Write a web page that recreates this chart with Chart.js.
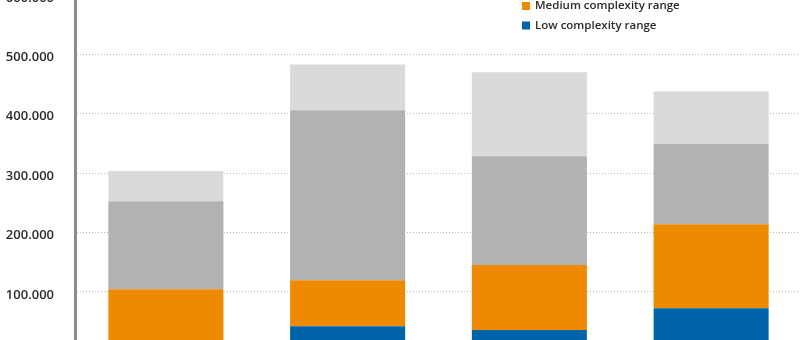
<!DOCTYPE html>
<html lang="en">
  <head>
    <meta charset="UTF-8" />
    <title>Complexity ranges</title>
    <style>
      html,
      body {
        margin: 0;
        padding: 0;
        width: 800px;
        height: 340px;
        overflow: hidden;
        background: #fff;
      }
      .plot {
        position: absolute;
        left: 0;
        top: -40px;
        width: 802px;
        height: 420px;
      }
    </style>
  </head>
  <body>
    <div class="plot">
      <canvas id="mychart"></canvas>
    </div>

    <script src="https://cdn.jsdelivr.net/npm/chart.js@4.4.1/dist/chart.umd.min.js"></script>
    <script>
      // categories and stacked series (bottom to top)
      const categories = ["A", "B", "C", "D"];
      const lowRange = [10000, 42000, 35500, 72500];
      const mediumRange = [94500, 77500, 109500, 141500];
      const highRange = [148000, 286500, 183500, 135000];
      const veryHighRange = [51000, 77000, 141500, 89000];
      const yTicks = [0, 100000, 200000, 300000, 400000, 500000, 600000];

      const font = "'Open Sans', 'DejaVu Sans', sans-serif";

      // legend drawn inside the plot, top item = top of stack
      const innerLegend = {
        id: "innerLegend",
        afterDraw(chart) {
          const ctx = chart.ctx;
          const sets = chart.data.datasets.slice().reverse();
          const x = 522;
          let y = -37 + 40;
          ctx.save();
          ctx.font = "600 11.5px " + font;
          ctx.textBaseline = "middle";
          sets.forEach((ds) => {
            ctx.fillStyle = ds.backgroundColor;
            ctx.fillRect(x, y, 8, 8);
            ctx.fillStyle = "#2b2b2b";
            ctx.fillText(ds.label, x + 13, y + 4);
            y += 19.5;
          });
          ctx.restore();
        },
      };

      new Chart(document.getElementById("mychart"), {
        type: "bar",
        data: {
          labels: categories,
          datasets: [
            { label: "Low complexity range", data: lowRange, backgroundColor: "#0064ab" },
            { label: "Medium complexity range", data: mediumRange, backgroundColor: "#ee8a00" },
            { label: "High complexity range", data: highRange, backgroundColor: "#b1b2b4" },
            { label: "Very high complexity range", data: veryHighRange, backgroundColor: "#d9dadc" },
          ],
        },
        options: {
          responsive: true,
          maintainAspectRatio: false,
          animation: false,
          layout: { padding: { top: 35, bottom: 24, left: 0, right: 0 } },
          datasets: {
            bar: { categoryPercentage: 1, barPercentage: 0.633, borderWidth: 0 },
          },
          plugins: {
            legend: { display: false },
            tooltip: { enabled: false },
          },
          scales: {
            x: { stacked: true, display: false },
            y: {
              stacked: true,
              min: yTicks[0],
              max: yTicks[yTicks.length - 1],
              afterFit: (scale) => {
                scale.width = 75;
              },
              afterBuildTicks: (scale) => {
                scale.ticks = yTicks.map((v) => ({ value: v }));
              },
              // border.dash dots the grid lines, the axis line stays solid
              border: { display: true, color: "#8c8c8c", width: 3, dash: [1, 2] },
              grid: {
                drawTicks: false,
                color: "#b8b8b8",
                lineWidth: 1,
              },
              ticks: {
                padding: 21,
                labelOffset: 3,
                color: "#2b2b2b",
                font: { family: font, size: 13, weight: "600" },
                callback: (v) => v.toLocaleString("de-DE"),
              },
            },
          },
        },
        plugins: [innerLegend],
      });
    </script>
  </body>
</html>
